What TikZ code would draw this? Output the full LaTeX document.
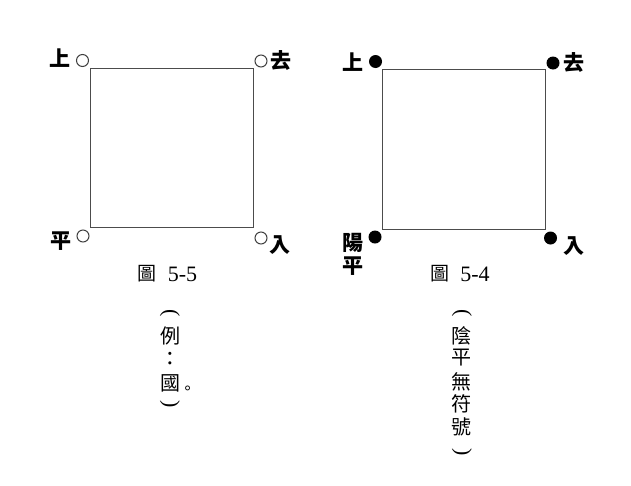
\documentclass[tikz,border=0pt]{standalone}
\usepackage{fontspec}
\newfontfamily\cjk{Noto Sans CJK TC}
\newfontfamily\numfont{Liberation Serif}
\begin{document}
\begin{tikzpicture}[x=1pt,y=-1pt,
  boxline/.style={draw=black!70,line width=0.9pt},
  opendot/.style={circle,draw=black!75,line width=1pt,fill=white,minimum size=12pt,inner sep=0pt},
  fulldot/.style={circle,fill=black,minimum size=13pt,inner sep=0pt},
  lbl/.style={font=\cjk\bfseries\fontsize{21}{22}\selectfont,inner sep=0pt},
  capt/.style={inner sep=0pt},
  vchar/.style={font=\cjk\fontsize{20}{22}\selectfont,inner sep=0pt},
  brk/.style={font=\numfont\fontsize{22}{24}\selectfont,inner sep=0pt,rotate=-90}]
\useasboundingbox (0,0) rectangle (631,485);
% left square
\draw[boxline] (90,68) rectangle (253,227);
\node[opendot] (a1) at (82.5,60.5) {};
\node[opendot] (a2) at (261,61) {};
\node[opendot] (a3) at (83,236) {};
\node[opendot] (a4) at (261,238) {};
\node[lbl] (la1) at (60,58) {上};
\node[lbl] (la2) at (281,60) {去};
\node[lbl] (la3) at (61,241) {平};
\node[lbl] (la4) at (280,245) {入};
% right square
\draw[boxline] (382,69) rectangle (545,229);
\node[fulldot] (b1) at (375.5,61.5) {};
\node[fulldot] (b2) at (553,63) {};
\node[fulldot] (b3) at (375,237) {};
\node[fulldot] (b4) at (550.5,238) {};
\node[lbl] (lb1) at (353,62) {上};
\node[lbl] (lb2) at (574,62) {去};
\node[lbl] (lb3) at (352.5,243) {陽};
\node[lbl] (lb3b) at (352.5,266) {平};
\node[lbl] (lb4) at (574,246) {入};
% captions
\node[capt,font=\cjk\fontsize{19}{20}\selectfont] (c1a) at (147,274) {圖};
\node[capt,font=\numfont\fontsize{22}{24}\selectfont] (c1b) at (182.5,274) {5-5};
\node[capt,font=\cjk\fontsize{19}{20}\selectfont] (c2a) at (440,274) {圖};
\node[capt,font=\numfont\fontsize{22}{24}\selectfont] (c2b) at (475,274) {5-4};
% vertical note, left
\node[brk] (v1o) at (170,313) {(};
\node[vchar] (v1a) at (170,336) {例};
\node[capt,font=\numfont\fontsize{26}{28}\selectfont] (v1b) at (170,359) {:};
\node[vchar] (v1c) at (170,383) {國};
\node[capt,font=\cjk\fontsize{16}{18}\selectfont] (v1d) at (187.5,390) {。};
\node[brk] (v1e) at (170,404) {)};
% vertical note, right
\node[brk] (v2o) at (462,313) {(};
\node[vchar] (v2a) at (461,336) {陰};
\node[vchar] (v2b) at (461,358) {平};
\node[vchar] (v2c) at (461,382) {無};
\node[vchar] (v2d) at (461,404) {符};
\node[vchar] (v2e) at (461,427) {號};
\node[brk] (v2f) at (462,452) {)};
\end{tikzpicture}
\end{document}
